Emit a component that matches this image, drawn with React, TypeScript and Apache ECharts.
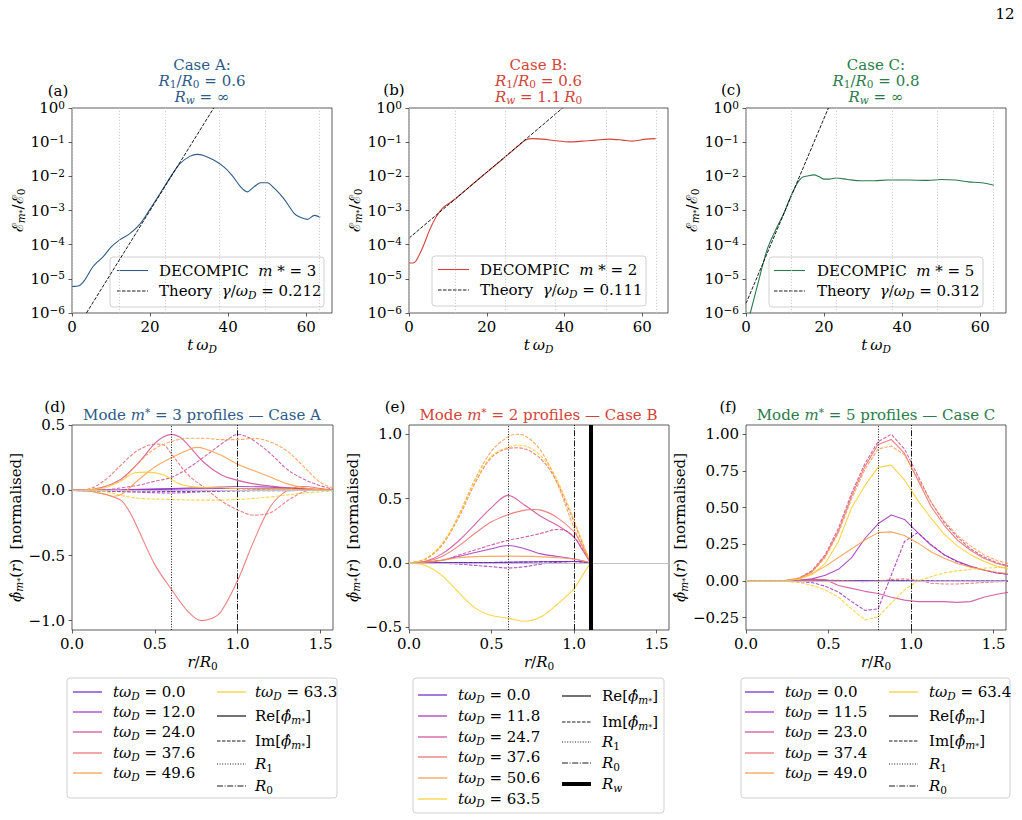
import React, { useEffect, useRef } from 'react';
import * as echarts from 'echarts';

const SERIF = 'DejaVu Serif';

// ---- mode energy growth, E_m*/E_0 versus t*omega_D ----
const tA = [0, 1.8, 3.3, 5.4, 8, 10.1, 12.3, 14.8, 17.4, 20, 22.6, 25.2, 27.7, 30.3, 32, 33.7, 36.3, 38.9, 41, 43.2, 44.9, 46.6, 48.3, 50, 51.8, 54.3, 56.9, 58.6, 60.3, 62.1, 63.6];
const eA = [6.0e-6, 6.3e-6, 9.3e-6, 2.3e-5, 4.5e-5, 8.7e-5, 1.4e-4, 2.1e-4, 4.0e-4, 1.1e-3, 3.2e-3, 9.5e-3, 2.4e-2, 3.9e-2, 4.4e-2, 4.1e-2, 3.0e-2, 1.9e-2, 1.07e-2, 4.9e-3, 3.5e-3, 4.9e-3, 6.5e-3, 6.5e-3, 4.5e-3, 2.2e-3, 8.3e-4, 6.2e-4, 5.5e-4, 7.2e-4, 6.3e-4];
const tB = [0, 1, 1.9, 3.6, 5.3, 7, 8.7, 10.9, 13, 15.6, 19.8, 24.1, 27.5, 30.1, 31.8, 34.4, 37.8, 41.2, 44.6, 48, 51.5, 54.9, 57.4, 60.9, 63.4];
const eB = [2.9e-5, 2.9e-5, 3.5e-5, 8.7e-5, 2.7e-4, 6.6e-4, 1.2e-3, 1.8e-3, 2.8e-3, 5.0e-3, 1.26e-2, 3.2e-2, 6.8e-2, 1.17e-1, 1.27e-1, 1.23e-1, 1.1e-1, 1.02e-1, 1.07e-1, 1.15e-1, 1.23e-1, 1.15e-1, 1.07e-1, 1.23e-1, 1.27e-1];
const tC = [0, 1.1, 3.3, 5.4, 7.6, 9.7, 11.4, 13.1, 14.4, 15.7, 17.4, 18.7, 20, 21.3, 23, 26, 29.4, 32.9, 36.3, 41.5, 46.6, 50.1, 53.5, 57, 60.3, 63.5];
const eC = [3.5e-7, 1.0e-6, 9.3e-6, 7.1e-5, 2.7e-4, 8.3e-4, 2.5e-3, 6.2e-3, 9.3e-3, 1.02e-2, 1.1e-2, 9.8e-3, 8.3e-3, 8.3e-3, 8.9e-3, 8.1e-3, 7.4e-3, 7.4e-3, 7.8e-3, 7.8e-3, 7.6e-3, 8.1e-3, 7.8e-3, 6.9e-3, 6.5e-3, 5.5e-3];

// linear-theory lines (end points), growth rates and mode numbers
const theoryTA = [3.7, 36.3];
const theoryEA = [1e-6, 1];
const theoryTB = [0, 39.5];
const theoryEB = [1.55e-4, 1];
const theoryTC = [0, 21.1];
const theoryEC = [1.9e-6, 1];
const gammas = [0.212, 0.111, 0.312];
const modes = [3, 2, 5];

// snapshot times of the profiles
const timesA = [0.0, 12.0, 24.0, 37.6, 49.6, 63.3];
const timesB = [0.0, 11.8, 24.7, 37.6, 50.6, 63.5];
const timesC = [0.0, 11.5, 23.0, 37.4, 49.0, 63.4];

// radii (r / R0)
const r1Vals = [0.6, 0.6, 0.8];
const r0Val = 1.0;
const rwB = 1.1;

// log-axis decades and linear tick labels
const decades = [1e-6, 1e-5, 1e-4, 1e-3, 1e-2, 1e-1, 1];
const tTicks = [0, 20, 40, 60];
const rTicks = [0, 0.5, 1.0, 1.5];
const phiTicksA = [-1.0, -0.5, 0.0, 0.5];
const phiTicksB = [-0.5, 0.0, 0.5, 1.0];
const phiTicksC = [-0.25, 0.0, 0.25, 0.5, 0.75, 1.0];

// ---- Case A profiles [r, value] ----
const aRe0 = [[0, 0], [0.3, 0.002], [0.6, 0.01], [0.9, 0.015], [1.2, 0.012], [1.575, 0.002]];
const aIm0 = [[0, 0], [0.4, -0.005], [0.6, -0.008], [1.0, -0.004], [1.575, 0]];
const aRe1 = [[0, 0], [0.3, 0.005], [0.6, 0.015], [0.9, 0.025], [1.0, 0.03], [1.2, 0.025], [1.4, 0.012], [1.575, 0.003]];
const aIm1 = [[0, 0], [0.3, -0.01], [0.6, -0.02], [0.8, -0.01], [1.0, 0.0], [1.2, 0.005], [1.575, 0]];
const aRe2 = [[0, 0], [0.1, 0.003], [0.2, 0.03], [0.3, 0.09], [0.4, 0.21], [0.5, 0.36], [0.55, 0.41], [0.6, 0.43], [0.65, 0.41], [0.7, 0.35], [0.8, 0.21], [0.9, 0.12], [1.0, 0.077], [1.1, 0.05], [1.2, 0.033], [1.3, 0.02], [1.4, 0.012], [1.5, 0.005], [1.575, 0]];
const aIm2 = [[0, 0], [0.2, 0.005], [0.3, 0.02], [0.4, 0.04], [0.5, 0.07], [0.6, 0.1], [0.7, 0.17], [0.8, 0.26], [0.9, 0.355], [0.95, 0.4], [1.0, 0.43], [1.05, 0.415], [1.1, 0.38], [1.2, 0.28], [1.3, 0.16], [1.4, 0.085], [1.5, 0.035], [1.575, 0.01]];
const aRe3 = [[0, 0], [0.1, -0.005], [0.2, -0.03], [0.25, -0.05], [0.3, -0.08], [0.35, -0.17], [0.4, -0.3], [0.5, -0.57], [0.6, -0.76], [0.7, -0.93], [0.78, -1.0], [0.85, -0.98], [0.9, -0.93], [1.0, -0.69], [1.1, -0.38], [1.2, -0.12], [1.3, 0.0], [1.4, 0.03], [1.5, 0.015], [1.575, 0]];
const aIm3 = [[0, 0], [0.1, 0.01], [0.2, 0.08], [0.3, 0.2], [0.35, 0.26], [0.4, 0.31], [0.5, 0.355], [0.55, 0.35], [0.6, 0.28], [0.7, 0.12], [0.8, 0.02], [0.9, -0.08], [1.0, -0.15], [1.1, -0.19], [1.2, -0.17], [1.3, -0.08], [1.4, -0.01], [1.5, 0.01], [1.575, 0]];
const aRe4 = [[0, 0], [0.1, -0.005], [0.2, -0.03], [0.25, -0.045], [0.3, -0.03], [0.4, 0.08], [0.5, 0.18], [0.6, 0.25], [0.7, 0.31], [0.75, 0.33], [0.8, 0.32], [0.9, 0.27], [1.0, 0.2], [1.1, 0.15], [1.2, 0.1], [1.3, 0.05], [1.4, 0.02], [1.5, 0.005], [1.575, 0]];
const aIm4 = [[0, 0], [0.1, 0.005], [0.2, 0.03], [0.3, 0.08], [0.4, 0.21], [0.5, 0.32], [0.6, 0.375], [0.7, 0.4], [0.8, 0.4], [0.9, 0.39], [1.0, 0.39], [1.1, 0.4], [1.2, 0.37], [1.3, 0.3], [1.4, 0.18], [1.5, 0.06], [1.575, 0.02]];
const aRe5 = [[0, 0], [0.1, 0.005], [0.2, 0.02], [0.3, 0.075], [0.38, 0.135], [0.45, 0.14], [0.55, 0.12], [0.65, 0.05], [0.75, 0.025], [0.9, 0.02], [1.0, 0.015], [1.2, 0.01], [1.4, 0.005], [1.575, 0]];
const aIm5 = [[0, 0], [0.2, -0.01], [0.3, -0.04], [0.4, -0.06], [0.6, -0.07], [0.8, -0.075], [1.0, -0.07], [1.2, -0.05], [1.4, -0.02], [1.575, -0.005]];

// ---- Case B profiles [r, value] (conducting wall at r = 1.1 R0) ----
const bRe0 = [[0, 0], [0.5, 0.003], [0.8, 0.008], [1.0, 0.01], [1.1, 0]];
const bIm0 = [[0, 0], [0.6, 0.004], [1.0, 0.01], [1.1, 0]];
const bRe1 = [[0, 0], [0.1, 0.005], [0.2, 0.02], [0.3, 0.05], [0.4, 0.08], [0.5, 0.11], [0.6, 0.135], [0.7, 0.11], [0.8, 0.07], [0.9, 0.05], [1.0, 0.03], [1.1, 0]];
const bIm1 = [[0, 0], [0.2, -0.003], [0.3, -0.01], [0.5, -0.03], [0.6, -0.04], [0.7, -0.03], [0.8, -0.01], [0.9, 0.005], [1.0, 0.01], [1.1, 0]];
const bRe2 = [[0, 0], [0.1, 0.013], [0.2, 0.07], [0.3, 0.17], [0.4, 0.3], [0.5, 0.43], [0.6, 0.525], [0.7, 0.45], [0.8, 0.36], [0.9, 0.29], [1.0, 0.2], [1.05, 0.1], [1.1, 0]];
const bIm2 = [[0, 0], [0.2, 0.02], [0.3, 0.06], [0.4, 0.1], [0.5, 0.14], [0.6, 0.175], [0.7, 0.2], [0.8, 0.23], [0.9, 0.26], [0.95, 0.25], [1.0, 0.2], [1.05, 0.11], [1.1, 0]];
const bRe3 = [[0, 0], [0.1, 0.01], [0.2, 0.05], [0.3, 0.13], [0.4, 0.23], [0.5, 0.32], [0.6, 0.375], [0.7, 0.41], [0.75, 0.415], [0.8, 0.41], [0.9, 0.35], [1.0, 0.24], [1.05, 0.13], [1.1, 0]];
const bIm3 = [[0, 0], [0.1, 0.03], [0.2, 0.14], [0.3, 0.35], [0.4, 0.62], [0.5, 0.82], [0.6, 0.89], [0.66, 0.895], [0.77, 0.84], [0.87, 0.69], [0.97, 0.41], [1.03, 0.22], [1.1, 0]];
const bRe4 = [[0, 0], [0.1, 0.005], [0.2, 0.02], [0.3, 0.04], [0.45, 0.05], [0.6, 0.052], [0.75, 0.05], [0.9, 0.04], [1.0, 0.03], [1.1, 0]];
const bIm4 = [[0, 0], [0.1, 0.03], [0.2, 0.14], [0.3, 0.37], [0.4, 0.65], [0.5, 0.87], [0.6, 0.98], [0.65, 1.0], [0.7, 0.99], [0.8, 0.87], [0.9, 0.61], [1.0, 0.27], [1.05, 0.13], [1.1, 0]];
const bRe5 = [[0, 0], [0.1, -0.02], [0.2, -0.1], [0.3, -0.23], [0.4, -0.35], [0.5, -0.41], [0.6, -0.43], [0.7, -0.455], [0.8, -0.42], [0.9, -0.32], [1.0, -0.2], [1.05, -0.1], [1.1, 0]];
const bIm5 = [[0, 0], [0.1, 0.03], [0.2, 0.15], [0.3, 0.36], [0.4, 0.63], [0.5, 0.83], [0.6, 0.9], [0.67, 0.915], [0.77, 0.865], [0.87, 0.71], [0.97, 0.43], [1.03, 0.23], [1.1, 0]];

// ---- Case C profiles on the radial grid rC ----
const rC = [0, 0.08, 0.16, 0.24, 0.32, 0.4, 0.48, 0.56, 0.64, 0.72, 0.8, 0.88, 0.96, 1.04, 1.12, 1.2, 1.28, 1.36, 1.44, 1.52, 1.6];
const cRe0 = [0, 0, 0, 0, 0, 0.001, 0.002, 0.003, 0.003, 0.003, 0.002, 0.002, 0.001, 0, 0, 0, 0, 0, 0, 0, 0];
const cIm0 = [0, 0, 0, 0, 0, 0, -0.001, -0.002, -0.003, -0.002, 0, 0.002, 0.003, 0.002, 0.001, 0, 0, 0, 0, 0, 0];
const cRe1 = [0, 0, 0, 0.002, 0.005, 0.015, 0.04, 0.08, 0.16, 0.29, 0.39, 0.45, 0.42, 0.33, 0.245, 0.18, 0.135, 0.1, 0.075, 0.055, 0.045];
const cIm1 = [0, 0, 0, -0.002, -0.004, -0.01, -0.035, -0.075, -0.14, -0.2, -0.19, 0.04, 0.27, 0.33, 0.25, 0.18, 0.13, 0.1, 0.075, 0.055, 0.045];
const cRe2 = [0, 0, 0, 0.002, 0.006, 0.012, 0.01, -0.03, -0.05, -0.07, -0.085, -0.11, -0.13, -0.14, -0.14, -0.14, -0.145, -0.14, -0.11, -0.09, -0.075];
const cIm2 = [0, 0, 0, 0.003, 0.02, 0.07, 0.18, 0.36, 0.6, 0.8, 0.95, 1.0, 0.9, 0.72, 0.54, 0.4, 0.3, 0.22, 0.165, 0.125, 0.1];
const cRe3 = [0, 0, 0, 0.003, 0.018, 0.065, 0.17, 0.34, 0.58, 0.78, 0.93, 0.965, 0.87, 0.69, 0.51, 0.38, 0.28, 0.21, 0.155, 0.12, 0.095];
const cIm3 = [0, 0, 0, 0, 0.002, 0.005, 0.008, 0.005, 0, -0.005, 0, 0.01, 0.015, 0.005, -0.015, -0.02, -0.02, -0.015, -0.01, -0.005, 0];
const cRe4 = [0, 0, 0, 0.003, 0.015, 0.05, 0.1, 0.16, 0.22, 0.28, 0.33, 0.335, 0.31, 0.26, 0.2, 0.155, 0.12, 0.095, 0.075, 0.06, 0.05];
const cIm4 = [0, 0, 0, 0.003, 0.017, 0.06, 0.16, 0.33, 0.56, 0.76, 0.9, 0.92, 0.86, 0.7, 0.54, 0.41, 0.31, 0.24, 0.18, 0.14, 0.115];
const cRe5 = [0, 0, 0, 0.002, 0.012, 0.045, 0.12, 0.27, 0.5, 0.65, 0.775, 0.79, 0.69, 0.55, 0.43, 0.32, 0.24, 0.18, 0.135, 0.1, 0.08];
const cIm5 = [0, 0, 0, -0.002, -0.01, -0.03, -0.06, -0.11, -0.19, -0.265, -0.245, -0.15, -0.06, 0, 0.03, 0.055, 0.07, 0.08, 0.088, 0.092, 0.095];

// ---- styling ----
const CASE_COLORS = ['#2e5b88', '#d1443a', '#2b7b4c'];
const TIME_COLORS = ['#6c1fc6', '#a030b8', '#cc4a98', '#ea6a6a', '#fb9a48', '#fbcc2a'];
const DASH = [3.5, 1.5];
const DOT = [1, 1.6];
const DASHDOT = [6, 1.6, 1, 1.6];
const FS = 15;

function makeRich(lh: number): any {
  return {
    n: { fontFamily: SERIF, fontSize: FS, lineHeight: lh },
    i: { fontFamily: SERIF, fontSize: FS, lineHeight: lh, fontStyle: 'italic' },
    s: { fontFamily: SERIF, fontSize: 10.5, lineHeight: 7, fontStyle: 'italic', verticalAlign: 'bottom' },
    z: { fontFamily: SERIF, fontSize: 10.5, lineHeight: 7, verticalAlign: 'bottom' },
    k: { fontFamily: SERIF, fontSize: 8, lineHeight: lh - 4, verticalAlign: 'bottom' },
    p: { fontFamily: SERIF, fontSize: 10.5, lineHeight: 7, verticalAlign: 'top' },
  };
}
const RICH = makeRich(18);
const RICH_TITLE = makeRich(16);

const GRIDS = [
  { left: 72, top: 108, width: 260, height: 205 },
  { left: 409, top: 108, width: 259, height: 205 },
  { left: 746, top: 108, width: 260, height: 205 },
  { left: 72, top: 425, width: 261, height: 205 },
  { left: 409, top: 425, width: 260, height: 205 },
  { left: 746, top: 425, width: 260, height: 205 },
];

const minus = (s: string) => s.replace('-', '\u2212');

function axisBase() {
  return {
    axisLine: { show: false, onZero: false },
    axisTick: { show: true, inside: false, length: 3.5, lineStyle: { color: '#333', width: 0.8 } },
    splitLine: { show: false },
    nameTextStyle: { color: '#000', fontFamily: SERIF, fontSize: FS, rich: RICH },
  };
}

function txt(x: number, y: number, text: string, opts: any = {}) {
  return {
    type: 'text',
    x,
    y,
    silent: true,
    style: {
      text,
      rich: opts.rich || RICH,
      fill: opts.fill || '#000',
      fontFamily: SERIF,
      fontSize: FS,
      align: opts.align || 'left',
      textAlign: opts.align || 'left',
      verticalAlign: 'middle',
      textVerticalAlign: 'middle',
    },
  };
}

function seg(x1: number, x2: number, y: number, style: any) {
  return { type: 'line', silent: true, shape: { x1, y1: y, x2, y2: y }, style };
}

function box(x: number, y: number, w: number, h: number) {
  return {
    type: 'rect',
    silent: true,
    shape: { x, y, width: w, height: h, r: 3 },
    style: { fill: 'rgba(255,255,255,0.85)', stroke: '#d0d0d0', lineWidth: 1 },
  };
}

const timeLabel = (t: number) => `{i|t\u03c9}{s|D}{n| = ${t.toFixed(1)}}`;
const phiHat = '{i|\u03d5\u0302}{s|m}{k|*}';

function buildOption() {
  const xAxis: any[] = [];
  const yAxis: any[] = [];
  const series: any[] = [];

  const growth = [
    [tA, eA, theoryTA, theoryEA, timesA],
    [tB, eB, theoryTB, theoryEB, timesB],
    [tC, eC, theoryTC, theoryEC, timesC],
  ] as any[];

  growth.forEach(([ts, es, tt, te, snaps], gi) => {
    xAxis.push({
      ...axisBase(),
      type: 'value',
      gridIndex: gi,
      min: 0,
      max: 66.6,
      axisTick: { ...axisBase().axisTick, customValues: tTicks },
      axisLabel: { customValues: tTicks, color: '#000', fontFamily: SERIF, fontSize: FS, margin: 6, formatter: (v: number) => String(v) },
      name: '{i|t\u2009\u03c9}{s|D}',
      nameLocation: 'middle',
      nameGap: 23,
    });
    yAxis.push({
      ...axisBase(),
      type: 'log',
      logBase: 10,
      gridIndex: gi,
      min: 1e-6,
      max: 1,
      axisTick: { ...axisBase().axisTick, customValues: decades },
      axisLabel: {
        customValues: decades,
        color: '#000',
        fontFamily: SERIF,
        fontSize: FS,
        margin: 7,
        rich: RICH,
        formatter: (v: number) => {
          const e = Math.round(Math.log10(v));
          return `{n|10}{p|${e < 0 ? '\u2212' + Math.abs(e) : e}}`;
        },
      },
      name: '{n|\u2130}{s|m}{k|*}{n|/\u2130}{z|0}',
      nameLocation: 'middle',
      nameRotate: 90,
      nameGap: 42,
    });
    series.push({
      type: 'line',
      xAxisIndex: gi,
      yAxisIndex: gi,
      data: ts.map((t: number, i: number) => [t, es[i]]),
      symbol: 'none',
      smooth: 0.3,
      silent: true,
      lineStyle: { color: CASE_COLORS[gi], width: 1.1 },
      markLine: {
        silent: true,
        symbol: ['none', 'none'],
        label: { show: false },
        lineStyle: { type: [1.2, 1.8], color: '#c4c4c4', width: 0.8 },
        data: snaps.map((t: number) => ({ xAxis: t })),
      },
    });
    series.push({
      type: 'line',
      xAxisIndex: gi,
      yAxisIndex: gi,
      data: tt.map((t: number, i: number) => [t, te[i]]),
      symbol: 'none',
      silent: true,
      lineStyle: { color: '#000', width: 0.9, type: DASH },
    });
  });

  const toPairs = (vals: number[]) => rC.map((r, j) => [r, vals[j]]);
  const profiles = [
    { re: [aRe0, aRe1, aRe2, aRe3, aRe4, aRe5], im: [aIm0, aIm1, aIm2, aIm3, aIm4, aIm5], smooth: 0.35, ticks: phiTicksA, range: [-1.072, 0.502], dec: 1 },
    { re: [bRe0, bRe1, bRe2, bRe3, bRe4, bRe5], im: [bIm0, bIm1, bIm2, bIm3, bIm4, bIm5], smooth: 0.35, ticks: phiTicksB, range: [-0.5225, 1.0725], dec: 1 },
    {
      re: [cRe0, cRe1, cRe2, cRe3, cRe4, cRe5].map(toPairs),
      im: [cIm0, cIm1, cIm2, cIm3, cIm4, cIm5].map(toPairs),
      smooth: false,
      ticks: phiTicksC,
      range: [-0.3335, 1.0635],
      dec: 2,
    },
  ];

  profiles.forEach((p, k) => {
    const gi = k + 3;
    xAxis.push({
      ...axisBase(),
      type: 'value',
      gridIndex: gi,
      min: 0,
      max: 1.575,
      axisTick: { ...axisBase().axisTick, customValues: rTicks },
      axisLabel: { customValues: rTicks, color: '#000', fontFamily: SERIF, fontSize: FS, margin: 6, formatter: (v: number) => v.toFixed(1) },
      name: '{i|r}{n|/}{i|R}{z|0}',
      nameLocation: 'middle',
      nameGap: 23,
    });
    yAxis.push({
      ...axisBase(),
      type: 'value',
      gridIndex: gi,
      min: p.range[0],
      max: p.range[1],
      axisTick: { ...axisBase().axisTick, customValues: p.ticks },
      axisLabel: { customValues: p.ticks, color: '#000', fontFamily: SERIF, fontSize: FS, margin: 7, formatter: (v: number) => minus(v.toFixed(p.dec)) },
      name: `${phiHat}{n|(}{i|r}{n|)  [normalised]}`,
      nameLocation: 'middle',
      nameRotate: 90,
      nameGap: 40,
    });
    const guides: any[] = [
      { yAxis: 0, lineStyle: { color: '#c4c4c4', width: 1, type: 'solid' } },
      { xAxis: r1Vals[k], lineStyle: { color: '#000', width: 0.9, type: DOT } },
      { xAxis: r0Val, lineStyle: { color: '#000', width: 0.9, type: DASHDOT } },
    ];
    if (k === 1) guides.push({ xAxis: rwB, lineStyle: { color: '#000', width: 4, type: 'solid' } });
    for (let i = 0; i < 6; i++) {
      series.push({
        type: 'line',
        xAxisIndex: gi,
        yAxisIndex: gi,
        data: p.re[i],
        symbol: 'none',
        smooth: p.smooth,
        silent: true,
        lineStyle: { color: TIME_COLORS[i], width: 1.1, opacity: 0.85 },
        ...(i === 0
          ? { markLine: { silent: true, symbol: ['none', 'none'], label: { show: false }, data: guides } }
          : {}),
      });
      series.push({
        type: 'line',
        xAxisIndex: gi,
        yAxisIndex: gi,
        data: p.im[i],
        symbol: 'none',
        smooth: p.smooth,
        silent: true,
        lineStyle: { color: TIME_COLORS[i], width: 1.1, opacity: 0.85, type: DASH },
      });
    }
  });

  // ---- texts, titles and legends ----
  const graphic: any[] = [];
  graphic.push(txt(1005, 14, '{n|12}', { align: 'center' }));

  const topCenters = [202, 538.5, 876];
  const titleText = [
    '{n|Case A:}\n{i|R}{z|1}{n|/}{i|R}{z|0}{n| = 0.6}\n{i|R}{s|w}{n| = \u221e}',
    '{n|Case B:}\n{i|R}{z|1}{n|/}{i|R}{z|0}{n| = 0.6}\n{i|R}{s|w}{n| = 1.1\u2009}{i|R}{z|0}',
    '{n|Case C:}\n{i|R}{z|1}{n|/}{i|R}{z|0}{n| = 0.8}\n{i|R}{s|w}{n| = \u221e}',
  ];
  titleText.forEach((t, k) => {
    graphic.push(txt(topCenters[k], 81, t, { align: 'center', fill: CASE_COLORS[k], rich: RICH_TITLE }));
    graphic.push(
      txt(topCenters[k], 415, `{n|Mode }{i|m}{p|*}{n| = ${modes[k]} profiles \u2014 Case ${'ABC'[k]}}`, { align: 'center', fill: CASE_COLORS[k] })
    );
  });
  const letters = [
    ['(a)', 58, 91], ['(b)', 394, 90], ['(c)', 731, 90],
    ['(d)', 55, 407], ['(e)', 395, 407], ['(f)', 728, 407],
  ] as any[];
  letters.forEach(([s, x, y]) => graphic.push(txt(x, y, `{n|${s}}`, { align: 'center' })));

  // growth-panel legends
  const topLeg = [
    { bx: 110, by: 257, lx: 117, tx: 159 },
    { bx: 432, by: 256, lx: 438, tx: 480 },
    { bx: 769, by: 257, lx: 774, tx: 817 },
  ];
  topLeg.forEach((g, k) => {
    graphic.push(box(g.bx, g.by, 214, 50));
    graphic.push(seg(g.lx, g.lx + 31, g.by + 13.5, { stroke: CASE_COLORS[k], lineWidth: 1.1 }));
    graphic.push(txt(g.tx, g.by + 13.5, `{n|DECOMPIC  }{i|m}{n| * = ${modes[k]}}`));
    graphic.push(seg(g.lx, g.lx + 31, g.by + 34, { stroke: '#000', lineWidth: 0.9, lineDash: DASH }));
    graphic.push(txt(g.tx, g.by + 34, `{n|Theory  }{i|\u03b3}{n|/}{i|\u03c9}{s|D}{n| = ${gammas[k].toFixed(3)}}`));
  });

  // profile-panel legends
  const botLeg = [
    { box: [67, 678, 270, 120], c1: [73, 113], c2: [217, 255], rows1: [692, 712, 732, 753, 773], rows2: [692, 716, 741, 764, 786], times: timesA, wrap: 5 },
    { box: [413, 678, 251, 135], c1: [418, 458], c2: [562, 602], rows1: [695, 716, 737, 757, 778, 799], rows2: [696, 722, 742, 763, 784], times: timesB, wrap: 6 },
    { box: [741, 678, 269, 120], c1: [745, 785], c2: [889, 929], rows1: [692, 712, 732, 753, 773], rows2: [692, 716, 741, 764, 786], times: timesC, wrap: 5 },
  ];
  botLeg.forEach((L, k) => {
    graphic.push(box(L.box[0], L.box[1], L.box[2], L.box[3]));
    const col2: any[] = [];
    L.times.forEach((t, i) => {
      const entry = { color: TIME_COLORS[i], label: timeLabel(t) };
      if (i < L.wrap) {
        const y = L.rows1[i];
        graphic.push(seg(L.c1[0], L.c1[0] + 29, y, { stroke: entry.color, lineWidth: 2, opacity: 0.6 }));
        graphic.push(txt(L.c1[1], y, entry.label));
      } else {
        col2.push({ style: { stroke: entry.color, lineWidth: 2, opacity: 0.6 }, label: entry.label });
      }
    });
    col2.push({ style: { stroke: '#000', lineWidth: 1.1 }, label: `{n|Re[}${phiHat}{n|]}` });
    col2.push({ style: { stroke: '#000', lineWidth: 0.9, lineDash: DASH }, label: `{n|Im[}${phiHat}{n|]}` });
    col2.push({ style: { stroke: '#000', lineWidth: 0.9, lineDash: DOT }, label: '{i|R}{z|1}' });
    col2.push({ style: { stroke: '#000', lineWidth: 0.9, lineDash: DASHDOT }, label: '{i|R}{z|0}' });
    if (k === 1) col2.push({ style: { stroke: '#000', lineWidth: 4 }, label: '{i|R}{s|w}' });
    col2.forEach((e, j) => {
      const y = L.rows2[j];
      graphic.push(seg(L.c2[0], L.c2[0] + 29, y, e.style));
      graphic.push(txt(L.c2[1], y, e.label));
    });
  });

  return {
    animation: false,
    textStyle: { fontFamily: SERIF },
    grid: GRIDS.map((g) => ({ ...g, show: true, borderColor: '#333', borderWidth: 0.8, backgroundColor: 'transparent' })),
    xAxis,
    yAxis,
    series,
    graphic,
  };
}

export default function App() {
  const ref = useRef<HTMLDivElement>(null);
  useEffect(() => {
    document.body.style.margin = '0';
    const chart = echarts.init(ref.current as HTMLDivElement, null, { renderer: 'svg' });
    chart.setOption(buildOption() as any);
    return () => chart.dispose();
  }, []);
  return <div ref={ref} style={{ width: 1022, height: 820 }} />;
}
